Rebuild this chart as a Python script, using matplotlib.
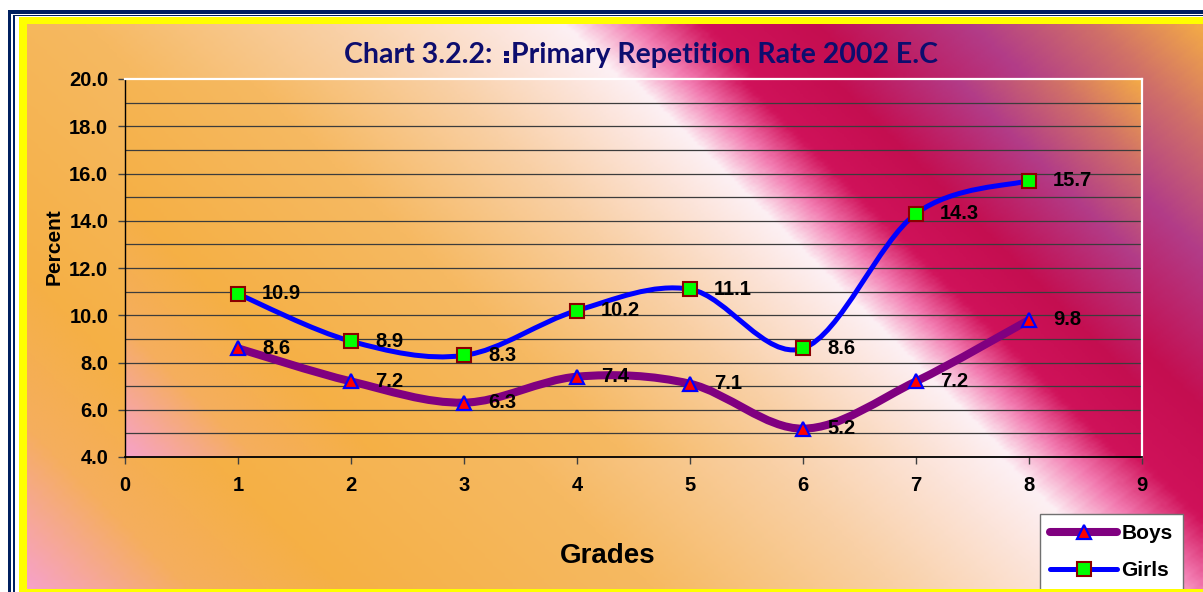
import numpy as np
import matplotlib
matplotlib.use("Agg")
import matplotlib.pyplot as plt
from matplotlib.colors import LinearSegmentedColormap
from matplotlib.path import Path
from matplotlib.patches import PathPatch, Rectangle
from matplotlib.lines import Line2D

# ---------------- data ----------------
grades = [1, 2, 3, 4, 5, 6, 7, 8]
boys = [8.6, 7.2, 6.3, 7.4, 7.1, 5.2, 7.2, 9.8]
girls = [10.9, 8.9, 8.3, 10.2, 11.1, 8.6, 14.3, 15.7]
series_names = ["Boys", "Girls"]

x_ticks = list(range(0, 10))
y_ticks = [4.0, 6.0, 8.0, 10.0, 12.0, 14.0, 16.0, 18.0, 20.0]
y_grid = [5, 7, 9, 11, 13, 15, 17, 19]

# the title has an ethiopic wordspace (U+1361) between the two parts;
# no installed font has that glyph, so it is drawn as two small squares
title_left = "Chart 3.2.2:"
title_right = "Primary Repetition Rate 2002 E.C"
x_label = "Grades"
y_label = "Percent"

# ---------------- look ----------------
W, H = 1203, 592
plt.rcParams["font.family"] = ["Liberation Sans", "DejaVu Sans"]
plt.rcParams["font.weight"] = "bold"

navy = "#002060"
yellow = "#FFFF00"
title_col = "#0D0D6E"
boys_col = "#800080"
girls_col = "#0000FF"

# diagonal gradient like the Excel fill (orange -> white band -> crimson -> purple -> orange)
grad = LinearSegmentedColormap.from_list("excel_fill", [
    (0.00, "#F7A2C6"),
    (0.09, "#F5AE5E"),
    (0.18, "#F5B045"),
    (0.36, "#F6B962"),
    (0.50, "#F9D0A6"),
    (0.59, "#FCE4DA"),
    (0.635, "#FDF0F4"),
    (0.675, "#F27AB0"),
    (0.715, "#D0125A"),
    (0.78, "#C40E50"),
    (0.87, "#B23C88"),
    (0.94, "#D07068"),
    (1.00, "#F2A848"),
])


def gradient_img(x0, x1, y0, y1, nx=300, ny=200):
    xs = np.linspace(x0, x1, nx)
    ys = np.linspace(y0, y1, ny)
    t = xs[None, :] - ys[:, None]
    s = (t - (x0 - y1)) / ((x1 - y0) - (x0 - y1))
    return grad(s)


def smooth_path(xs, ys):
    # Excel style smoothed line: bezier segments with catmull-rom control points
    p = np.column_stack([xs, ys]).astype(float)
    n = len(p)
    verts = [p[0]]
    codes = [Path.MOVETO]
    for i in range(n - 1):
        pa = p[i - 1] if i > 0 else p[i]
        pd = p[i + 2] if i + 2 < n else p[i + 1]
        c1 = p[i] + (p[i + 1] - pa) / 6.0
        c2 = p[i + 1] - (pd - p[i]) / 6.0
        verts += [c1, c2, p[i + 1]]
        codes += [Path.CURVE4] * 3
    return Path(verts, codes)


fig = plt.figure(figsize=(W / 100, H / 100), dpi=100)
fig.patch.set_facecolor("white")

# background frame, in pixel coords (y down)
bg = fig.add_axes([0, 0, 1, 1])
bg.axis("off")
bg.set_zorder(0)
bg.add_patch(Rectangle((8, 10), W, H, fc=navy, ec="none"))
bg.add_patch(Rectangle((11, 13.5), W, H, fc="white", ec="none"))
bg.add_patch(Rectangle((12.7, 14.5), W, H, fc=navy, ec="none"))
bg.add_patch(Rectangle((14.7, 16), W, H, fc="white", ec="none"))
bg.add_patch(Rectangle((19, 17), W, H, fc=yellow, ec="none"))
bg.imshow(gradient_img(27, W, 24, H), extent=(27, W, 589, 24),
          aspect="auto", interpolation="bilinear", zorder=1)
bg.set_xlim(0, W)
bg.set_ylim(H, 0)

# plot area
px0, px1, py0, py1 = 125, 1142, 79, 457
ax = fig.add_axes([px0 / W, 1 - py1 / H, (px1 - px0) / W, (py1 - py0) / H])
ax.set_zorder(1)
ax.patch.set_visible(False)
ax.imshow(gradient_img(px0, px1, py0, py1), extent=(0, 9, 4, 20),
          aspect="auto", interpolation="bilinear", zorder=0)
ax.set_xlim(0, 9)
ax.set_ylim(4, 20)

for g in y_grid + y_ticks[1:-1]:
    ax.axhline(g, color="#3C3C3C", lw=0.9, zorder=1)

ax.set_xticks(x_ticks)
ax.set_yticks(y_ticks)
ax.set_yticklabels([f"{v:.1f}" for v in y_ticks])
ax.tick_params(axis="both", direction="out", length=5, width=1, color="#404040",
               labelsize=14.5, labelcolor="black")
ax.tick_params(axis="y", pad=7)
ax.tick_params(axis="x", pad=9)
for lab in ax.get_xticklabels() + ax.get_yticklabels():
    lab.set_fontweight("bold")

ax.spines["left"].set_color("black")
ax.spines["bottom"].set_color("black")
ax.spines["left"].set_linewidth(1.0)
ax.spines["bottom"].set_linewidth(1.3)
ax.spines["top"].set_color("white")
ax.spines["right"].set_color("white")
ax.spines["top"].set_linewidth(1.6)
ax.spines["right"].set_linewidth(1.6)

# lines
ax.add_patch(PathPatch(smooth_path(grades, boys), fill=False, ec=boys_col, lw=5.8,
                       capstyle="round", joinstyle="round", zorder=3))
ax.add_patch(PathPatch(smooth_path(grades, girls), fill=False, ec=girls_col, lw=3.6,
                       capstyle="round", joinstyle="round", zorder=3))
ax.plot(grades, boys, ls="none", marker="^", ms=10.5, mfc="#FF0000", mec="#0000FF",
        mew=1.6, zorder=4)
ax.plot(grades, girls, ls="none", marker="s", ms=9.5, mfc="#00FF00", mec="#8B0000",
        mew=1.5, zorder=4)

for g, v in zip(grades, boys):
    ax.annotate(f"{v:.1f}", (g, v), xytext=(24, 0), textcoords="offset pixels",
                ha="left", va="center", fontsize=14.5, fontweight="bold", zorder=5)
for g, v in zip(grades, girls):
    ax.annotate(f"{v:.1f}", (g, v), xytext=(24, 0), textcoords="offset pixels",
                ha="left", va="center", fontsize=14.5, fontweight="bold", zorder=5)

# title: left part, wordspace shape, right part, centred together
r = fig.canvas.get_renderer()
tkw = dict(fontsize=20.5, fontweight="bold", color=title_col, family=["Lato", "DejaVu Sans"],
           va="baseline", ha="left")
base = 63
gap_a, dot, gap_b = 12, 5, 2.5
t1 = bg.text(0, base, title_left, **tkw)
t2 = bg.text(0, base, title_right, **tkw)
w1 = t1.get_window_extent(r).width
w2 = t2.get_window_extent(r).width
x_start = 641 - (w1 + gap_a + dot + gap_b + w2) / 2
t1.set_x(x_start)
xd = x_start + w1 + gap_a
bg.add_patch(Rectangle((xd, base - dot), dot, dot, fc=title_col, ec="none", zorder=3))
bg.add_patch(Rectangle((xd, base - 2.5 * dot), dot, dot, fc=title_col, ec="none", zorder=3))
t2.set_x(xd + dot + gap_b)

fig.text(54 / W, 1 - 247 / H, y_label, rotation=90, ha="center", va="center",
         fontsize=15, fontweight="bold")
fig.text(608 / W, 1 - 563 / H, x_label, ha="center", va="baseline",
         fontsize=20, fontweight="bold")

# legend
handles = [
    Line2D([], [], color=boys_col, lw=5.8, solid_capstyle="round", marker="^", ms=10.5,
           mfc="#FF0000", mec="#0000FF", mew=1.6),
    Line2D([], [], color=girls_col, lw=3.6, solid_capstyle="round", marker="s", ms=9.5,
           mfc="#00FF00", mec="#8B0000", mew=1.5),
]
leg = fig.legend(handles, series_names, loc="upper left",
                 bbox_to_anchor=(1040 / W, 1 - 514 / H), bbox_transform=fig.transFigure,
                 frameon=True, fancybox=False, framealpha=1, facecolor="white",
                 edgecolor="#707070", prop={"size": 15, "weight": "bold"},
                 handlelength=3.2, handletextpad=0.2, labelspacing=0.85,
                 borderpad=0.5, borderaxespad=0)
leg.get_frame().set_linewidth(1.0)
leg.set_zorder(5)

# yellow strip at the bottom edge sits over the legend
fig.add_artist(Rectangle((19 / W, 0), 1, 3 / H, transform=fig.transFigure,
                         fc=yellow, ec="none", zorder=10))

fig.savefig("out.png", dpi=100)
